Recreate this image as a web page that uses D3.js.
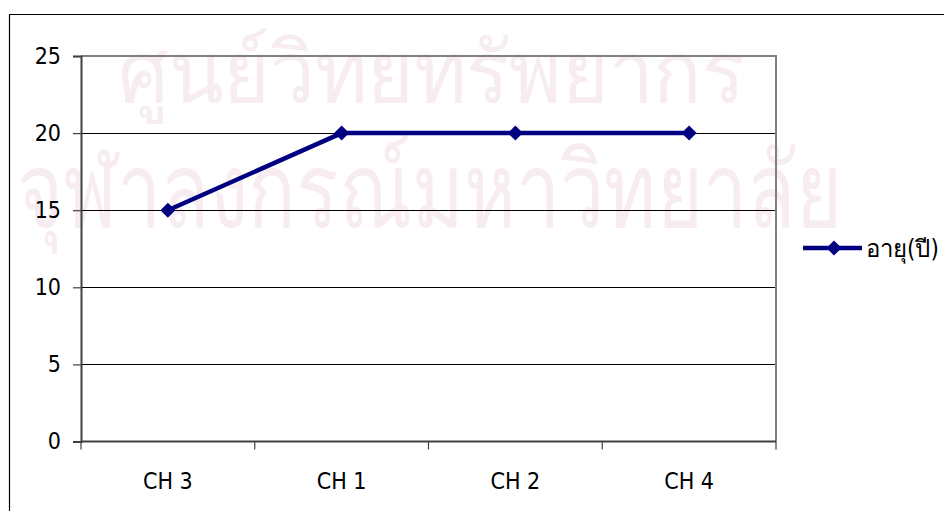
<!DOCTYPE html>
<html>
<head>
<meta charset="utf-8">
<script src="https://cdn.jsdelivr.net/npm/d3@7"></script>
<style>
  html, body { margin: 0; padding: 0; background: #fff; }
  svg { display: block; }
  text { font-family: "DejaVu Sans Condensed", "DejaVu Sans", sans-serif; font-stretch: condensed; }
</style>
</head>
<body>
<svg id="chart" width="944" height="511"></svg>
<script>
// Age (years) per channel
const categories = ["CH 3", "CH 1", "CH 2", "CH 4"];
const ageValues = [15, 20, 20, 20];
const yTicks = [0, 5, 10, 15, 20, 25];
const seriesName = "อายุ(ปี)";
const watermarkLines = ["ศูนย์วิทยทรัพยากร", "จุฬาลงกรณ์มหาวิทยาลัย"];

const svg = d3.select("#chart");
const W = 944, H = 511;
const plot = { left: 81, right: 776, top: 56, bottom: 441.5 };

svg.append("rect").attr("width", W).attr("height", H).attr("fill", "#fff");

// faint background watermark, tall and narrow
const wm = svg.append("g").attr("fill", "#f7ecf2");
wm.append("text").attr("x", 118).attr("y", 102).attr("font-size", 84)
  .attr("textLength", 627).attr("lengthAdjust", "spacingAndGlyphs").text(watermarkLines[0]);
wm.append("text").attr("x", 17).attr("y", 227).attr("font-size", 104)
  .attr("textLength", 825).attr("lengthAdjust", "spacingAndGlyphs").text(watermarkLines[1]);

// outer chart frame
svg.append("path")
  .attr("d", `M9.5,${H + 2} V14.5 H${W + 2}`)
  .attr("fill", "none").attr("stroke", "#000").attr("stroke-width", 1.2);

const x = d3.scaleBand().domain(categories).range([plot.left, plot.right]);
const y = d3.scaleLinear().domain([0, 25]).range([plot.bottom, plot.top]);

// gridlines
svg.append("g").selectAll("line").data(yTicks.filter(t => t > 0 && t < 25)).join("line")
  .attr("x1", plot.left).attr("x2", plot.right)
  .attr("y1", d => Math.round(y(d)) + 0.5).attr("y2", d => Math.round(y(d)) + 0.5)
  .attr("stroke", "#000").attr("stroke-width", 1);

// plot area border (top and right)
svg.append("path")
  .attr("d", `M${plot.left},${plot.top} H${plot.right} V${plot.bottom}`)
  .attr("fill", "none").attr("stroke", "#808080").attr("stroke-width", 2);

// y axis
const yAxis = svg.append("g").attr("transform", `translate(${plot.left},0)`)
  .call(d3.axisLeft(y).tickValues(yTicks).tickSize(8).tickPadding(12));
yAxis.select(".domain").attr("stroke", "#404040").attr("stroke-width", 2);
yAxis.selectAll(".tick line").attr("stroke", "#404040").attr("stroke-width", 1.2);
yAxis.selectAll(".tick text").attr("font-size", 23).attr("fill", "#000");

// x axis with ticks at category boundaries
const boundaries = categories.map(c => x(c)).concat([x.range()[1]]);
const xAxis = svg.append("g").attr("transform", `translate(0,${plot.bottom})`);
xAxis.append("line").attr("x1", plot.left).attr("x2", plot.right)
  .attr("stroke", "#404040").attr("stroke-width", 2);
xAxis.selectAll(".btick").data(boundaries).join("line").attr("class", "btick")
  .attr("x1", d => d).attr("x2", d => d)
  .attr("y1", 0).attr("y2", 8).attr("stroke", "#404040").attr("stroke-width", 1.2);
xAxis.selectAll(".clabel").data(categories).join("text").attr("class", "clabel")
  .attr("x", d => x(d) + x.bandwidth() / 2).attr("y", 47)
  .attr("text-anchor", "middle").attr("font-size", 23).attr("fill", "#000").text(d => d);

// series line
const data = categories.map((c, i) => ({ c, v: ageValues[i] }));
const cx = d => x(d.c) + x.bandwidth() / 2;
const color = "#000080";
svg.append("path").datum(data)
  .attr("d", d3.line().x(cx).y(d => y(d.v)))
  .attr("fill", "none").attr("stroke", color).attr("stroke-width", 4.5).attr("stroke-linejoin", "round");

const diamond = "M0,-7.5 L7.5,0 L0,7.5 L-7.5,0 Z";
svg.append("g").selectAll("path").data(data).join("path")
  .attr("transform", d => `translate(${cx(d)},${y(d.v)})`)
  .attr("d", diamond).attr("fill", color);

// legend
const lg = svg.append("g").attr("transform", "translate(803,248)");
lg.append("line").attr("x1", 0).attr("x2", 59).attr("stroke", color).attr("stroke-width", 4.5);
lg.append("path").attr("transform", "translate(31,0)").attr("d", diamond).attr("fill", color);
lg.append("text").attr("x", 63).attr("y", 9).attr("font-size", 24).attr("fill", "#000").text(seriesName);
</script>
</body>
</html>
